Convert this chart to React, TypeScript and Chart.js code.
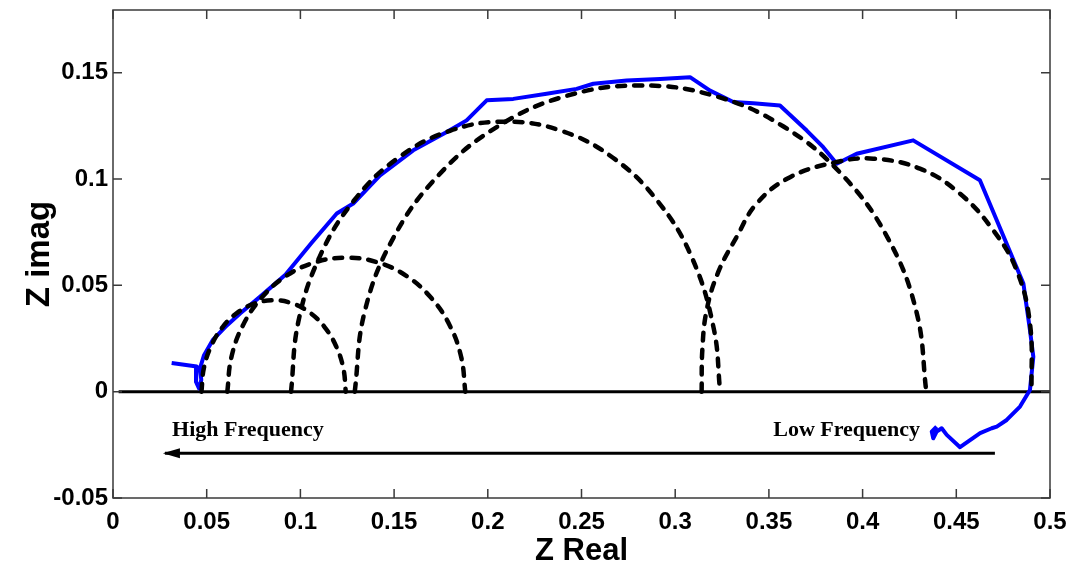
import React, { useEffect, useRef } from 'react';
import { Chart, registerables } from 'chart.js';

Chart.register(...registerables);

// ---- axis ticks ----
const xTicks = [0, 0.05, 0.1, 0.15, 0.2, 0.25, 0.3, 0.35, 0.4, 0.45, 0.5];
const yTicks = [-0.05, 0, 0.05, 0.1, 0.15];

// ---- measured impedance (blue) ----
const measuredX = [
  0.0313, 0.0447, 0.0443, 0.0459, 0.0471, 0.0465, 0.0485, 0.0534, 0.06, 0.0678,
  0.0784, 0.092, 0.106, 0.1194, 0.1282, 0.1425, 0.1602, 0.1781, 0.1887, 0.1994,
  0.2136, 0.2314, 0.2474, 0.2563, 0.2741, 0.2919, 0.3079, 0.3186, 0.331, 0.3417,
  0.3559, 0.3702, 0.379, 0.3862, 0.3968, 0.427, 0.4626, 0.4858, 0.4893, 0.4911,
  0.4893, 0.484, 0.4769, 0.4716, 0.4689, 0.4627, 0.452, 0.4449, 0.4422, 0.4395,
  0.4377, 0.4369, 0.4395,
];
const measuredY = [
  0.0135, 0.0118, 0.0046, 0.0015, 0.0055, 0.0112, 0.017, 0.0245, 0.0305, 0.0368,
  0.0446, 0.055, 0.07, 0.0838, 0.0885, 0.1017, 0.1135, 0.1221, 0.1276, 0.137,
  0.1377, 0.1401, 0.1424, 0.1448, 0.1463, 0.1471, 0.1479, 0.1416, 0.1362, 0.1357,
  0.1346, 0.1228, 0.115, 0.1072, 0.1119, 0.1182, 0.0994, 0.0509, 0.029, 0.0164,
  0.0008, -0.007, -0.0133, -0.0164, -0.0172, -0.0195, -0.0261, -0.0203, -0.0172, -0.0188,
  -0.0219, -0.0188, -0.0164,
];

// ---- fitted arcs (dashed) ----
const arcAX = [0.0472, 0.0485, 0.0524, 0.0585, 0.0664, 0.0757, 0.0857, 0.0957, 0.105, 0.1129, 0.119, 0.1229, 0.1242];
const arcAY = [0, 0.0111, 0.0215, 0.0304, 0.0372, 0.0415, 0.043, 0.0415, 0.0372, 0.0304, 0.0215, 0.0111, 0];

const arcBX = [0.061, 0.0632, 0.0695, 0.0796, 0.0927, 0.1081, 0.1245, 0.1409, 0.1563, 0.1694, 0.1795, 0.1858, 0.188];
const arcBY = [0, 0.0163, 0.0315, 0.0445, 0.0546, 0.0609, 0.063, 0.0609, 0.0546, 0.0445, 0.0315, 0.0163, 0];

const arcCX = [0.095, 0.0989, 0.1103, 0.1285, 0.1522, 0.1798, 0.2095, 0.2392, 0.2668, 0.2905, 0.3087, 0.3205, 0.324];
const arcCY = [0, 0.0329, 0.0635, 0.0898, 0.11, 0.1227, 0.127, 0.1227, 0.11, 0.0898, 0.0635, 0.03, 0];

const arcDX = [0.129, 0.1342, 0.1494, 0.1737, 0.2052, 0.242, 0.2815, 0.321, 0.3578, 0.3893, 0.4136, 0.4288, 0.434];
const arcDY = [0, 0.0373, 0.072, 0.1018, 0.1247, 0.1391, 0.144, 0.1391, 0.1247, 0.1018, 0.072, 0.0373, 0];

const arcEX = [0.3141, 0.3145, 0.3168, 0.323, 0.3328, 0.3435, 0.3613, 0.3862, 0.4057, 0.4306, 0.452, 0.4697, 0.4822, 0.4893, 0.4902];
const arcEY = [0, 0.02, 0.0384, 0.0563, 0.0728, 0.0885, 0.1009, 0.108, 0.1096, 0.1049, 0.0931, 0.0759, 0.0571, 0.0321, 0];

// ---- reference lines ----
const zeroLineX = [0.003, 0.5];
const zeroLineY = [0, 0];
const arrowX = [0.0277, 0.4706];
const arrowY = [-0.029, -0.029];

// ---- annotation texts ----
const noteTexts = ['High Frequency', 'Low Frequency'];
const noteX = [0.0315, 0.3523];
const noteY = [-0.0208, -0.0208];

const pts = (xs: number[], ys: number[]) => xs.map((x, i) => ({ x, y: ys[i] }));

const SANS = '"Liberation Sans", Arial, Helvetica, sans-serif';
const SERIF = '"Liberation Serif", "Times New Roman", serif';

const framePlugin = {
  id: 'frameTicks',
  afterDatasetsDraw(chart: any) {
    const { ctx, chartArea, scales } = chart;
    const { left, right, top, bottom } = chartArea;
    const xs = scales.x;
    const ys = scales.y;
    ctx.save();
    ctx.strokeStyle = '#3a3a3a';
    ctx.lineWidth = 1.5;
    ctx.strokeRect(left, top, right - left, bottom - top);
    const L = 9;
    ctx.beginPath();
    xs.ticks.forEach((_t: any, i: number) => {
      const p = xs.getPixelForTick(i);
      ctx.moveTo(p, bottom);
      ctx.lineTo(p, bottom - L);
      ctx.moveTo(p, top);
      ctx.lineTo(p, top + L);
    });
    ys.ticks.forEach((_t: any, i: number) => {
      const p = ys.getPixelForTick(i);
      ctx.moveTo(left, p);
      ctx.lineTo(left + L, p);
      ctx.moveTo(right, p);
      ctx.lineTo(right - L, p);
    });
    ctx.stroke();

    // arrow head at the high-frequency end
    const ax = xs.getPixelForValue(arrowX[0]);
    const ay = ys.getPixelForValue(arrowY[0]);
    ctx.fillStyle = '#000';
    ctx.beginPath();
    ctx.moveTo(ax - 2, ay);
    ctx.lineTo(ax + 15, ay - 5);
    ctx.lineTo(ax + 15, ay + 5);
    ctx.closePath();
    ctx.fill();

    // frequency notes
    ctx.font = `bold 22px ${SERIF}`;
    ctx.textAlign = 'left';
    ctx.textBaseline = 'alphabetic';
    noteTexts.forEach((t, i) => {
      ctx.fillText(t, xs.getPixelForValue(noteX[i]), ys.getPixelForValue(noteY[i]));
    });
    ctx.restore();
  },
};

export default function App() {
  const ref = useRef<HTMLCanvasElement>(null);
  useEffect(() => {
    const dashed = (data: any) => ({
      data,
      showLine: true,
      borderColor: '#000',
      borderWidth: 4.5,
      borderDash: [8, 9],
      borderCapStyle: 'round',
      pointRadius: 0,
      tension: 0.4,
      fill: false,
    });
    const chart = new Chart(ref.current as HTMLCanvasElement, {
      type: 'scatter',
      data: {
        datasets: [
          dashed(pts(arcAX, arcAY)),
          dashed(pts(arcBX, arcBY)),
          dashed(pts(arcCX, arcCY)),
          dashed(pts(arcDX, arcDY)),
          dashed(pts(arcEX, arcEY)),
          {
            data: pts(measuredX, measuredY),
            showLine: true,
            borderColor: '#0000ff',
            borderWidth: 4,
            pointRadius: 0,
            tension: 0,
            borderJoinStyle: 'round',
          },
          {
            data: pts(zeroLineX, zeroLineY),
            showLine: true,
            borderColor: '#000',
            borderWidth: 3,
            pointRadius: 0,
          },
          {
            data: pts(arrowX, arrowY),
            showLine: true,
            borderColor: '#000',
            borderWidth: 3,
            pointRadius: 0,
          },
        ] as any,
      },
      options: {
        animation: false,
        responsive: false,
        maintainAspectRatio: false,
        layout: { padding: { left: 0, right: 22, top: 10, bottom: 0 } },
        plugins: { legend: { display: false }, tooltip: { enabled: false } },
        scales: {
          x: {
            type: 'linear',
            min: 0,
            max: 0.5,
            afterBuildTicks: (s: any) => {
              s.ticks = xTicks.map((v) => ({ value: v }));
            },
            afterFit: (s: any) => {
              s.height = 73;
              s.paddingLeft = 0;
              s.paddingRight = 0;
            },
            grid: { display: false, drawTicks: false },
            border: { display: false },
            ticks: {
              autoSkip: false,
              maxRotation: 0,
              padding: 10,
              color: '#000',
              font: { family: SANS, weight: 'bold', size: 24 },
              callback: (v: any) => String(v),
            },
            title: {
              display: true,
              text: 'Z Real',
              color: '#000',
              font: { family: SANS, weight: 'bold', size: 31 },
              padding: { top: 0, bottom: 1 },
            },
          },
          y: {
            type: 'linear',
            min: -0.05,
            max: 0.1795,
            afterBuildTicks: (s: any) => {
              s.ticks = yTicks.map((v) => ({ value: v }));
            },
            afterFit: (s: any) => {
              s.width = 113;
              s.paddingTop = 0;
              s.paddingBottom = 0;
            },
            grid: { display: false, drawTicks: false },
            border: { display: false },
            ticks: {
              autoSkip: false,
              padding: 5,
              color: '#000',
              font: { family: SANS, weight: 'bold', size: 24 },
              callback: (v: any) => String(v),
            },
            title: {
              display: true,
              text: 'Z imag',
              color: '#000',
              font: { family: SANS, weight: 'bold', size: 33 },
              padding: { top: 20, bottom: 0 },
            },
          },
        },
      } as any,
      plugins: [framePlugin],
    });
    return () => chart.destroy();
  }, []);
  return (
    <div style={{ position: 'absolute', left: 0, top: 0, width: 1072, height: 571, background: '#fff' }}>
      <canvas ref={ref} width={1072} height={571} style={{ display: 'block' }} />
    </div>
  );
}
